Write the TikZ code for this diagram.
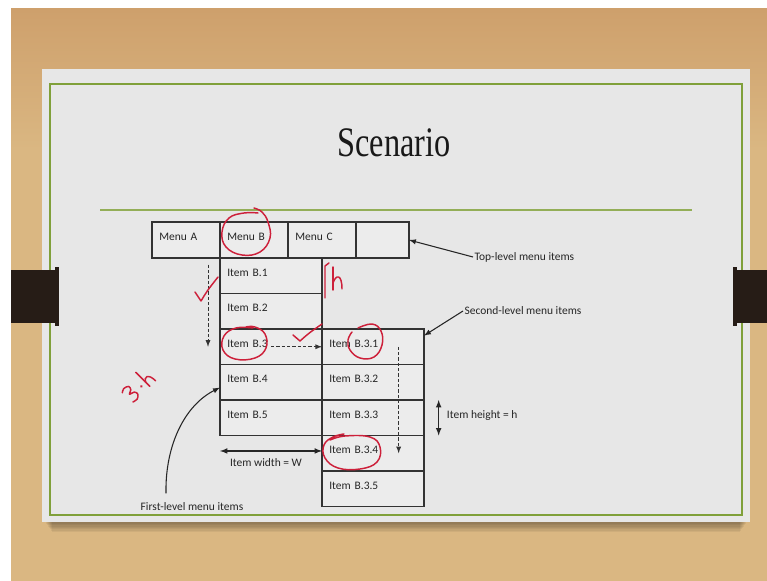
\documentclass[tikz,border=0pt]{standalone}
\usepackage{fontspec}
\setmainfont{Carlito}
\newfontfamily\titlefont{Liberation Serif}
\usetikzlibrary{arrows}
\usetikzlibrary{positioning}
\definecolor{wood}{RGB}{218,183,130}
\definecolor{woodtop}{RGB}{206,160,108}
\definecolor{paper}{RGB}{231,231,231}
\definecolor{cellfill}{RGB}{236,236,236}
\definecolor{slidegreen}{RGB}{128,160,58}
\definecolor{pen}{RGB}{205,32,58}
\definecolor{clipdark}{RGB}{38,28,22}

\begin{document}
\begin{tikzpicture}[x=0.75pt,y=-0.75pt,>=latex]
\tikzstyle{menu}=[rectangle,draw=black!80,fill=cellfill,line width=1pt,
inner xsep=5.5pt,inner ysep=0pt,outer sep=0pt,minimum height=27pt,
text depth=5pt,text width=40pt,align=left,font=\fontsize{8.6}{9.5}\selectfont,text=black!85]
\tikzstyle{item}=[menu,minimum height=26.625pt,text width=65.5pt]
\tikzstyle{lbl}=[font=\fontsize{8.6}{9.5}\selectfont,text=black!85,inner sep=1pt]
\tikzstyle{pointer}=[->,black!85,line width=0.8pt]
\tikzstyle{dimline}=[<->,black!85,line width=0.9pt]
\tikzstyle{flow}=[->,black!80,line width=0.7pt,dash pattern=on 2.5pt off 1.5pt]
\tikzstyle{ink}=[pen,line width=1.1pt,line cap=round,line join=round]

% wood, slide and clips
\useasboundingbox (0,0) rectangle (767,581);
\fill[white] (0,0) rectangle (767,581);
\shade[top color=woodtop,bottom color=wood] (11,9) rectangle (767,150);
\fill[wood] (11,150) rectangle (767,581);
\foreach \d in {1,...,8}
  \fill[black,opacity=0.05] (44+\d,518) rectangle (748-\d,521+\d*1.4);
\fill[paper] (42,69) rectangle (750,522);
\draw[slidegreen,line width=1.2pt] (50,84) rectangle (742,515);
\draw[slidegreen!85,line width=1.1pt] (100,210) -- (692,210);
\fill[clipdark] (11,270) rectangle (57,323);
\fill[clipdark] (55,267) rectangle (59,326);
\fill[clipdark] (735,270) rectangle (767,323);
\fill[clipdark] (733,267) rectangle (737,326);

\node[font=\titlefont\fontsize{31.5}{36}\selectfont,text=black!90] (title) at (394,143) {\scalebox{0.77}[1]{Scenario}};

% top-level menu
\node[menu,anchor=north west] (menu a) at (152,222) {Menu A};
\node[menu] (menu b) [right=0pt of menu a] {Menu B};
\node[menu] (menu c) [right=0pt of menu b] {Menu C};
\node[menu,text width=28.75pt] (menu d) [right=0pt of menu c] {};

% first level
\node[item,anchor=north west] (item b1) at (menu b.south west) {Item B.1};
\node[item] (item b2) [below=0pt of item b1] {Item B.2};
\node[item] (item b3) [below=0pt of item b2] {Item B.3};
\node[item] (item b4) [below=0pt of item b3] {Item B.4};
\node[item] (item b5) [below=0pt of item b4] {Item B.5};

% second level
\node[item] (item b31) [right=0pt of item b3] {Item B.3.1};
\node[item] (item b32) [below=0pt of item b31] {Item B.3.2};
\node[item] (item b33) [below=0pt of item b32] {Item B.3.3};
\node[item] (item b34) [below=0pt of item b33] {Item B.3.4};
\node[item] (item b35) [below=0pt of item b34] {Item B.3.5};

% callouts
\node[lbl,anchor=west] (top label) at (473,257) {Top-level menu items};
\draw[pointer] (top label.west) -- (menu d.east);
\node[lbl,anchor=west] (second label) at (463,311) {Second-level menu items};
\draw[pointer] (second label.west) -- ([yshift=-5pt]item b31.north east);

\coordinate (h top) at ([xshift=11pt]item b33.north east);
\coordinate (h bottom) at ([xshift=11pt]item b33.south east);
\draw[dimline] (h top) -- (h bottom);
\node[lbl,anchor=west] (height label) at ([xshift=16pt,yshift=2pt]item b33.east) {Item height = h};

\coordinate (w left) at ([yshift=-11.6pt]item b5.south west);
\coordinate (w right) at ([yshift=-11.6pt]item b5.south east);
\draw[dimline] (w left) -- (w right);
\node[lbl] (width label) at (266,463) {Item width = W};

\node[lbl] (first label) at (192,507) {First-level menu items};
\draw[pointer] ([xshift=-19.5pt,yshift=6pt]first label.north) .. controls (165,445) and (185,405) .. ([yshift=-4pt]item b4.west);

% navigation
\coordinate (down start) at ([xshift=-9pt,yshift=-5pt]item b1.north west);
\coordinate (down end) at ([xshift=-9pt]item b3.west);
\draw[flow] (down start) -- (down end);
\draw[flow] (item b3.center) -- (item b31.west);
\draw[flow] ([xshift=-19pt]item b31.east) -- ([xshift=-19pt]item b34.east);

% pen marks
\draw[ink] plot[smooth,tension=0.7] coordinates {(258,213) (244,213) (229,218) (222,232) (226,247) (242,255) (260,252) (270,238) (268,222) (262,212) (254,208)};
\draw[ink] plot[smooth,tension=0.7] coordinates {(253,328) (236,328) (224,336) (223,350) (235,359) (255,358) (266,348) (265,334) (255,327) (246,327)};
\draw[ink] plot[smooth,tension=0.7] coordinates {(358,328) (372,324) (381,331) (382,345) (374,357) (360,358) (350,350) (348,340) (352,332)};
\draw[ink] plot[smooth,tension=0.7] coordinates {(330,440) (345,436) (370,437) (380,447) (377,462) (360,469) (338,468) (325,458) (324,445) (333,437) (344,434)};
\draw[ink] (195,292) -- (201,301) .. controls (207,291) .. (218,277);
\draw[ink] (293,335) -- (300,341) .. controls (309,333) .. (322,324);
\draw[ink] (325,298) -- (325,266) -- (329,263);
\draw[ink] (333,267) -- (333,290);
\draw[ink] (333,283) .. controls (336,274) and (342,274) .. (342,289);
\begin{scope}[shift={(140,385)},rotate=45]
\draw[ink] plot[smooth,tension=0.6] coordinates {(-18,-7) (-14,-9) (-9,-7) (-10,-3) (-14,-1) (-9,1) (-8,5) (-12,8) (-17,7)};
\fill[pen] (0,2) circle (1.3);
\draw[ink] (6,-12) -- (6,8);
\draw[ink] (6,2) .. controls (8,-3) and (14,-3) .. (14,8);
\end{scope}
\end{tikzpicture}
\end{document}
